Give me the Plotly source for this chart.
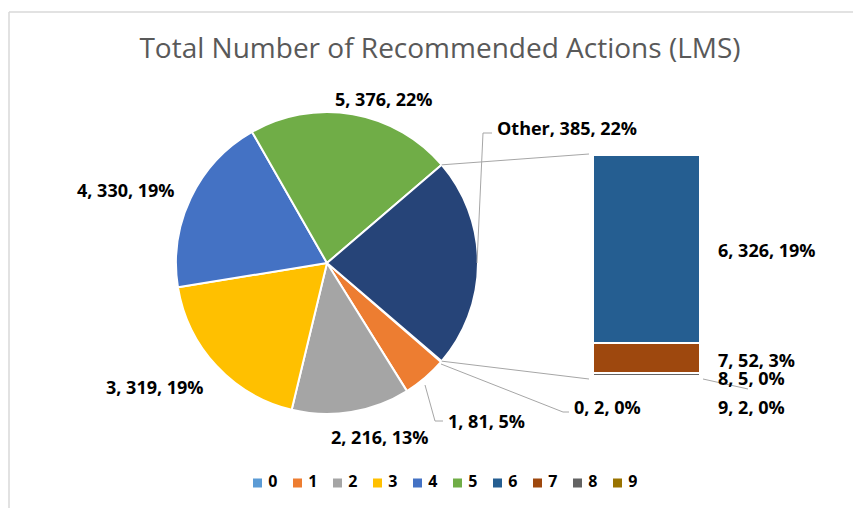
import math
import plotly.graph_objects as go

# ---------------- data ----------------
categories = ["0", "1", "2", "3", "4", "5", "6", "7", "8", "9"]
values = [2, 81, 216, 319, 330, 376, 326, 52, 5, 2]
pct_labels = [0, 5, 13, 19, 19, 22, 19, 3, 0, 0]        # as printed on the chart
other_label = "Other"
other_pct_label = 22
n_pie = 6                                               # categories 0..5 in the pie
colors = ["#5B9BD5", "#ED7D31", "#A5A5A5", "#FFC000", "#4472C4",
          "#70AD47", "#255E91", "#9E480E", "#636363", "#997300"]
other_color = "#264478"
title = "Total Number of Recommended Actions (LMS)"

# ---------------- geometry helpers (pixels -> paper) ----------------
W, H = 853, 508
def px(x): return x / W
def py(y): return 1 - y / H

pie_cx, pie_cy, pie_r = 327, 263, 151
bar_x0, bar_x1, bar_top, bar_bot = 593, 700, 155, 377
leg_x0, leg_step, leg_y = 237.5, 40, 483

pie_vals = values[:n_pie]
other_val = sum(values[n_pie:])
total = sum(pie_vals) + other_val
other_deg = 360 * other_val / total
rotation = 90 + other_deg / 2          # centre "Other" slice at 3 o'clock

fig = go.Figure()

fig.add_trace(go.Pie(
    labels=categories[:n_pie] + [other_label],
    values=pie_vals + [other_val],
    sort=False, direction="clockwise", rotation=rotation,
    marker=dict(colors=colors[:n_pie] + [other_color], line=dict(color="white", width=2)),
    textinfo="none", showlegend=False,
    domain=dict(x=[px(pie_cx - pie_r), px(pie_cx + pie_r)],
                y=[py(pie_cy + pie_r), py(pie_cy - pie_r)]),
))

# stacked bar: last category at bottom, first of the split at top
for i in reversed(range(n_pie, len(categories))):
    fig.add_trace(go.Bar(x=[0], y=[values[i]], name=categories[i], width=1,
                         marker=dict(color=colors[i], line=dict(color="white", width=2)),
                         showlegend=False, xaxis="x", yaxis="y"))

# legend row (category keys)
fig.add_trace(go.Scatter(
    x=categories, y=[0] * len(categories), mode="markers+text",
    marker=dict(symbol="square", size=9, color=colors, line=dict(width=0)),
    text=[f"\u00a0<b>{c}</b>" for c in categories], textposition="middle right",
    textfont=dict(family="Open Sans", size=16, color="black"),
    hoverinfo="skip", showlegend=False, xaxis="x2", yaxis="y2",
))

# ---------------- labels ----------------
lab_font = dict(family="Open Sans", size=18, color="black")
def lab(i):
    return f"<b>{categories[i]}, {values[i]}, {pct_labels[i]}%</b>"

pie_label_pos = {5: (384, 99, "center"), 4: (126, 190, "center"), 3: (155, 387, "center"),
                 2: (380, 437, "center"), 1: (446, 421, "left"), 0: (572, 407, "left")}
bar_label_pos = {6: (716, 250), 7: (716, 360), 8: (716, 378), 9: (716, 407)}
ann = []
for i, (x, y, a) in pie_label_pos.items():
    ann.append(dict(x=px(x), y=py(y), xref="paper", yref="paper", text=lab(i),
                    showarrow=False, xanchor=a, yanchor="middle", font=lab_font))
ann.append(dict(x=px(495), y=py(128), xref="paper", yref="paper",
                text=f"<b>{other_label}, {other_val}, {other_pct_label}%</b>",
                showarrow=False, xanchor="left", yanchor="middle", font=lab_font))
for i, (x, y) in bar_label_pos.items():
    ann.append(dict(x=px(x), y=py(y), xref="paper", yref="paper", text=lab(i),
                    showarrow=False, xanchor="left", yanchor="middle", font=lab_font))

# ---------------- lines ----------------
line_style = dict(color="#A6A6A6", width=1)
def pie_pt(deg):
    a = math.radians(deg)
    return pie_cx + pie_r * math.sin(a), pie_cy - pie_r * math.cos(a)

start_other = rotation - other_deg
end_other = rotation
tx, ty = pie_pt(start_other)
bx, by = pie_pt(end_other)
shapes = [
    dict(type="line", xref="paper", yref="paper", x0=px(tx), y0=py(ty),
         x1=px(bar_x0 - 4), y1=py(bar_top - 1), line=line_style),
    dict(type="line", xref="paper", yref="paper", x0=px(bx), y0=py(by),
         x1=px(bar_x0 - 4), y1=py(bar_bot + 2), line=line_style),
]
def path(pts):
    return "M " + " L ".join(f"{px(x)},{py(y)}" for x, y in pts)
for pts in [[(477, 263), (483, 133), (492, 133)],
            [(425, 385), (435, 421), (443, 421)],
            [(441, 364), (563, 412), (569, 412)],
            [(703, 379), (748, 389)]]:
    shapes.append(dict(type="path", xref="paper", yref="paper", path=path(pts),
                       line=line_style))
# chart-area border (top and left)
shapes.append(dict(type="line", xref="paper", yref="paper", x0=px(9), y0=py(12),
                   x1=1, y1=py(12), line=dict(color="#D9D9D9", width=1.5)))
shapes.append(dict(type="line", xref="paper", yref="paper", x0=px(9), y0=py(12),
                   x1=px(9), y1=0, line=dict(color="#D9D9D9", width=1.5)))

n_cat = len(categories)
fig.update_layout(
    width=W, height=H, margin=dict(l=0, r=0, t=0, b=0),
    paper_bgcolor="white", plot_bgcolor="white",
    title=dict(text=title, x=px(440), y=py(48), xanchor="center", yanchor="middle",
               font=dict(family="Open Sans", size=28, color="#595959")),
    barmode="stack",
    xaxis=dict(domain=[px(bar_x0), px(bar_x1)], range=[-0.5, 0.5], visible=False, fixedrange=True),
    yaxis=dict(domain=[py(bar_bot), py(bar_top)], range=[0, other_val], visible=False, fixedrange=True),
    xaxis2=dict(domain=[px(leg_x0), px(leg_x0 + leg_step * n_cat)], range=[-0.5, n_cat - 0.5],
                type="category", visible=False, fixedrange=True, anchor="y2"),
    yaxis2=dict(domain=[py(leg_y + 10), py(leg_y - 10)], range=[-1, 1], visible=False,
                fixedrange=True, anchor="x2"),
    annotations=ann, shapes=shapes, showlegend=False,
)

fig.write_html("out.html", post_script="document.body.style.margin='0';",
               config={"displayModeBar": False})
